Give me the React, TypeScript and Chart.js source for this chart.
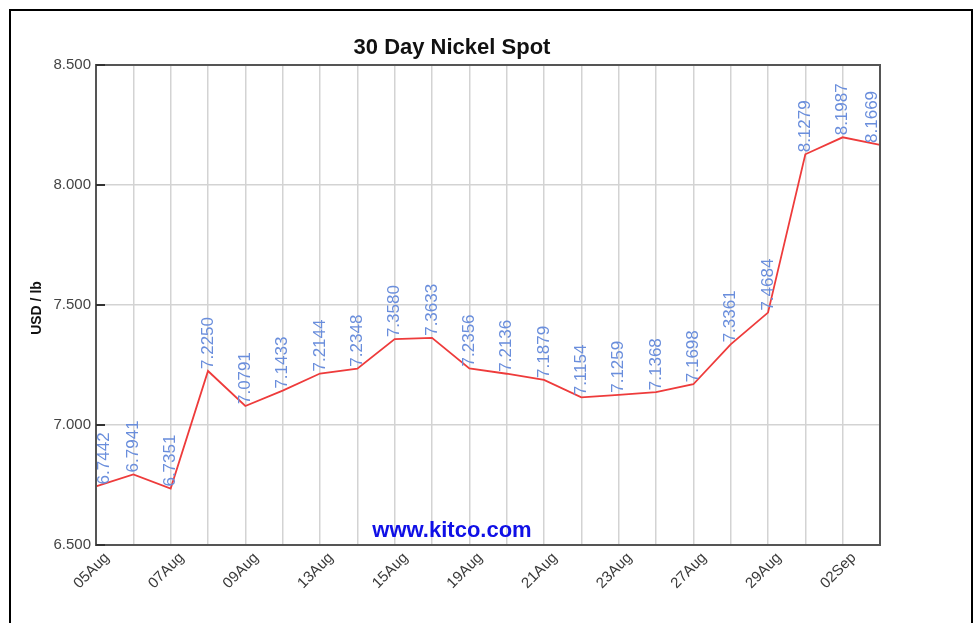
import React, { useEffect, useRef } from "react";
import { Chart, registerables } from "chart.js";

Chart.register(...registerables);

const dates = [
  "05Aug", "06Aug", "07Aug", "08Aug", "09Aug", "12Aug", "13Aug", "14Aug",
  "15Aug", "16Aug", "19Aug", "20Aug", "21Aug", "22Aug", "23Aug", "26Aug",
  "27Aug", "28Aug", "29Aug", "30Aug", "02Sep", "03Sep",
];

const prices = [
  6.7442, 6.7941, 6.7351, 7.225, 7.0791, 7.1433, 7.2144, 7.2348,
  7.358, 7.3633, 7.2356, 7.2136, 7.1879, 7.1154, 7.1259, 7.1368,
  7.1698, 7.3361, 7.4684, 8.1279, 8.1987, 8.1669,
];

const yMin = 6.5;
const yMax = 8.5;
const yStep = 0.5;

const chartTitle = "30 Day Nickel Spot";
const yAxisTitle = "USD / lb";
const watermark = "www.kitco.com";

const FONT = "'Liberation Sans', Arial, sans-serif";

const decorPlugin = {
  id: "decor",
  beforeDraw(chart: any) {
    const { ctx, width, height } = chart;
    ctx.save();
    ctx.fillStyle = "#ffffff";
    ctx.fillRect(0, 0, width, height);
    ctx.strokeStyle = "#000000";
    ctx.lineWidth = 2;
    ctx.strokeRect(10, 10, 962, height + 20);
    ctx.restore();
  },
  afterDatasetsDraw(chart: any) {
    const { ctx, chartArea } = chart;
    const yScale = chart.scales.y;
    ctx.save();
    // plot frame
    ctx.strokeStyle = "#555555";
    ctx.lineWidth = 2;
    ctx.strokeRect(chartArea.left, chartArea.top, chartArea.right - chartArea.left, chartArea.bottom - chartArea.top);
    // inner y ticks
    ctx.strokeStyle = "#333333";
    ctx.lineWidth = 2;
    yScale.ticks.forEach((t: any) => {
      const py = Math.round(yScale.getPixelForValue(t.value));
      ctx.beginPath();
      ctx.moveTo(chartArea.left, py);
      ctx.lineTo(chartArea.left + 9, py);
      ctx.stroke();
    });
    // value labels
    const meta = chart.getDatasetMeta(0);
    ctx.fillStyle = "#6a8edc";
    ctx.font = `17px ${FONT}`;
    ctx.textAlign = "left";
    ctx.textBaseline = "middle";
    meta.data.forEach((pt: any, i: number) => {
      const x = Math.min(Math.max(pt.x, chartArea.left + 8), chartArea.right - 8);
      ctx.save();
      ctx.translate(x, pt.y - 2);
      ctx.rotate(-Math.PI / 2);
      ctx.fillText(prices[i].toFixed(4), 0, 0);
      ctx.restore();
    });
    // title
    ctx.fillStyle = "#111111";
    ctx.font = `bold 22px ${FONT}`;
    ctx.textAlign = "center";
    ctx.textBaseline = "alphabetic";
    ctx.fillText(chartTitle, 452, 54);
    // watermark
    ctx.fillStyle = "#1010e6";
    ctx.font = `bold 22px ${FONT}`;
    ctx.fillText(watermark, 452, 537);
    // y axis title
    ctx.save();
    ctx.translate(37, 308);
    ctx.rotate(-Math.PI / 2);
    ctx.fillStyle = "#111111";
    ctx.font = `bold 14px ${FONT}`;
    ctx.textBaseline = "middle";
    ctx.fillText(yAxisTitle, 0, 0);
    ctx.restore();
    ctx.restore();
  },
};

export default function App() {
  const ref = useRef<HTMLCanvasElement>(null);
  useEffect(() => {
    if (!ref.current) return;
    const chart = new Chart(ref.current, {
      type: "line",
      data: {
        labels: dates,
        datasets: [
          {
            data: prices,
            borderColor: "#ee3b3b",
            borderWidth: 1.8,
            pointRadius: 0,
            tension: 0,
            fill: false,
          },
        ],
      },
      options: {
        responsive: false,
        animation: false,
        devicePixelRatio: 1,
        layout: { padding: { left: 0, top: 65, right: 97, bottom: 0 } },
        plugins: {
          legend: { display: false },
          title: { display: false },
          tooltip: { enabled: false },
        },
        scales: {
          x: {
            grid: { color: "#d3d3d3", lineWidth: 1.5, drawTicks: false },
            border: { display: false },
            ticks: {
              autoSkip: false,
              maxRotation: 45,
              minRotation: 45,
              padding: 4,
              labelOffset: 11,
              color: "#3a3a3a",
              font: { family: FONT, size: 15 },
              callback: (_v: any, i: number) => (i % 2 === 0 ? dates[i] : ""),
            },
            afterFit: (s: any) => {
              s.height = 78;
            },
          },
          y: {
            min: yMin,
            max: yMax,
            grid: { color: "#d3d3d3", lineWidth: 1.5, drawTicks: false },
            border: { display: false },
            ticks: {
              stepSize: yStep,
              padding: 5,
              color: "#444444",
              font: { family: FONT, size: 15 },
              callback: (v: any) => Number(v).toFixed(3),
            },
            afterFit: (s: any) => {
              s.width = 96;
            },
          },
        },
      },
      plugins: [decorPlugin],
    });
    return () => chart.destroy();
  }, []);
  return (
    <div style={{ position: "absolute", left: 0, top: 0, width: 977, height: 623 }}>
      <canvas ref={ref} width={977} height={623} />
    </div>
  );
}
